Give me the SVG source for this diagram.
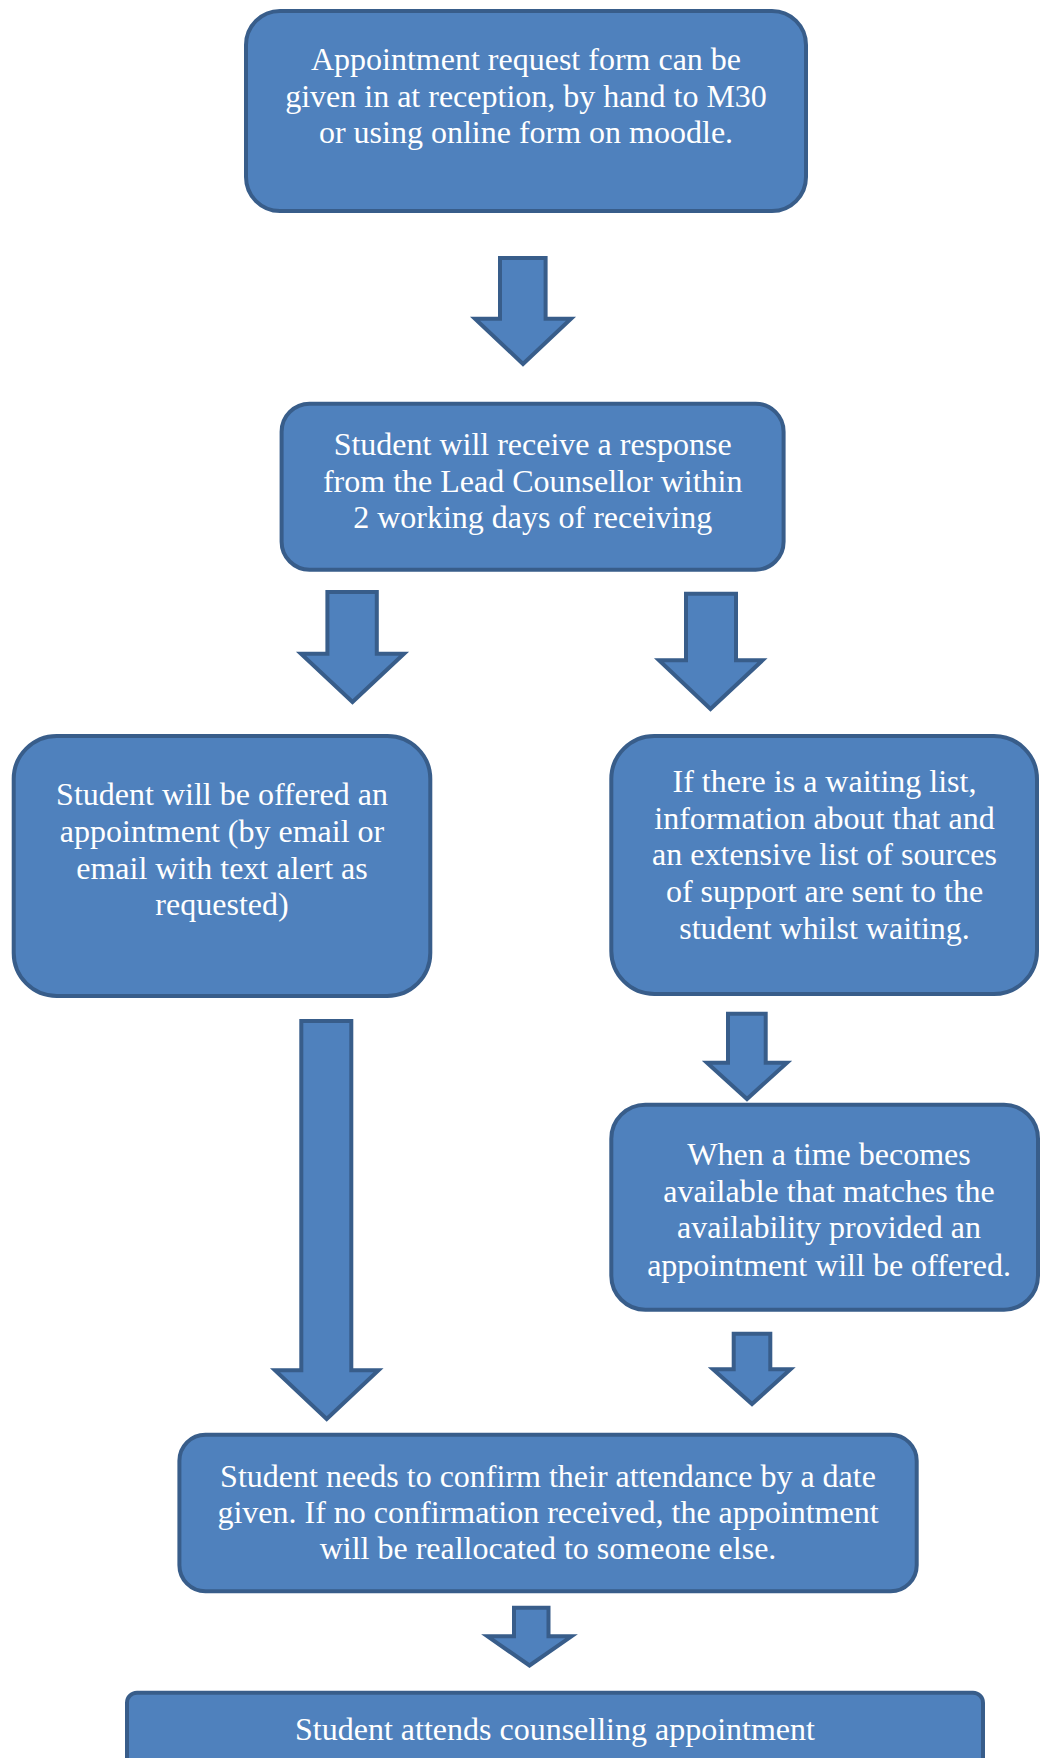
<svg xmlns="http://www.w3.org/2000/svg" width="1040" height="1758" viewBox="0 0 1040 1758">
<style>
.box{fill:#4F81BD;stroke:#385D8A;stroke-width:4}
.arr{fill:#4F81BD;stroke:#385D8A;stroke-width:4;stroke-linejoin:miter}
.t{fill:#FFFFFF;font-family:"Liberation Serif","Times New Roman",serif;font-size:32px;text-anchor:middle}
</style>
<rect width="1040" height="1758" fill="#FFFFFF"/>
<g id="connectors">
<path class="arr" d="M500,258 H545.6 V318.7 H571 L523,364 L475,318.7 H500 Z"/>
<path class="arr" d="M327.4,592 H376.8 V653.7 H404 L352.5,702 L301,653.7 H327.4 Z"/>
<path class="arr" d="M686,593.7 H736 V660.3 H762.5 L710.5,709 L659,660.3 H686 Z"/>
<path class="arr" d="M728,1013.7 H765.7 V1062.7 H787 L747,1099 L707,1062.7 H728 Z"/>
<path class="arr" d="M733.7,1333.7 H770.3 V1369.3 H790.5 L752,1404 L713,1369.3 H733.7 Z"/>
<path class="arr" d="M301.3,1021 H351.3 V1370.3 H378.5 L326.7,1419 L275,1370.3 H301.3 Z"/>
<path class="arr" d="M514,1607.7 H548.5 V1636.3 H571.5 L529.5,1665.5 L487.5,1636.3 H514 Z"/>
</g>
<g id="node1">
<rect class="box" x="246" y="11" width="560" height="200" rx="34"/>
<text class="t" x="526" y="69.8">Appointment request form can be</text>
<text class="t" x="526" y="106.5">given in at reception, by hand to M30</text>
<text class="t" x="526" y="143.2">or using online form on moodle.</text>
</g>
<g id="node2">
<rect class="box" x="281.6" y="403.7" width="502" height="166" rx="28"/>
<text class="t" x="532.7" y="454.8">Student will receive a response</text>
<text class="t" x="532.7" y="491.5">from the Lead Counsellor within</text>
<text class="t" x="532.7" y="528.2">2 working days of receiving</text>
</g>
<g id="node3">
<rect class="box" x="13.7" y="736" width="416.6" height="260" rx="43"/>
<text class="t" x="222" y="805.3">Student will be offered an</text>
<text class="t" x="222" y="842">appointment (by email or</text>
<text class="t" x="222" y="878.7">email with text alert as</text>
<text class="t" x="222" y="915.3">requested)</text>
</g>
<g id="node4">
<rect class="box" x="611.3" y="736" width="425.7" height="258" rx="43"/>
<text class="t" x="824.5" y="792">If there is a waiting list,</text>
<text class="t" x="824.5" y="828.7">information about that and</text>
<text class="t" x="824.5" y="865.3">an extensive list of sources</text>
<text class="t" x="824.5" y="902">of support are sent to the</text>
<text class="t" x="824.5" y="938.7">student whilst waiting.</text>
</g>
<g id="node5">
<rect class="box" x="611.3" y="1104.7" width="426.7" height="205" rx="34"/>
<text class="t" x="829" y="1164.8">When a time becomes</text>
<text class="t" x="829" y="1201.5">available that matches the</text>
<text class="t" x="829" y="1238.2">availability provided an</text>
<text class="t" x="829" y="1275.5">appointment will be offered.</text>
</g>
<g id="node6">
<rect class="box" x="179.4" y="1434.7" width="737.3" height="156.6" rx="26"/>
<text class="t" x="548" y="1486.5">Student needs to confirm their attendance by a date</text>
<text class="t" x="548" y="1523.2">given. If no confirmation received, the appointment</text>
<text class="t" x="548" y="1559.2">will be reallocated to someone else.</text>
</g>
<g id="node7">
<rect class="box" x="127" y="1692.7" width="856" height="120" rx="10"/>
<text class="t" x="555" y="1740">Student attends counselling appointment</text>
</g>
</svg>
